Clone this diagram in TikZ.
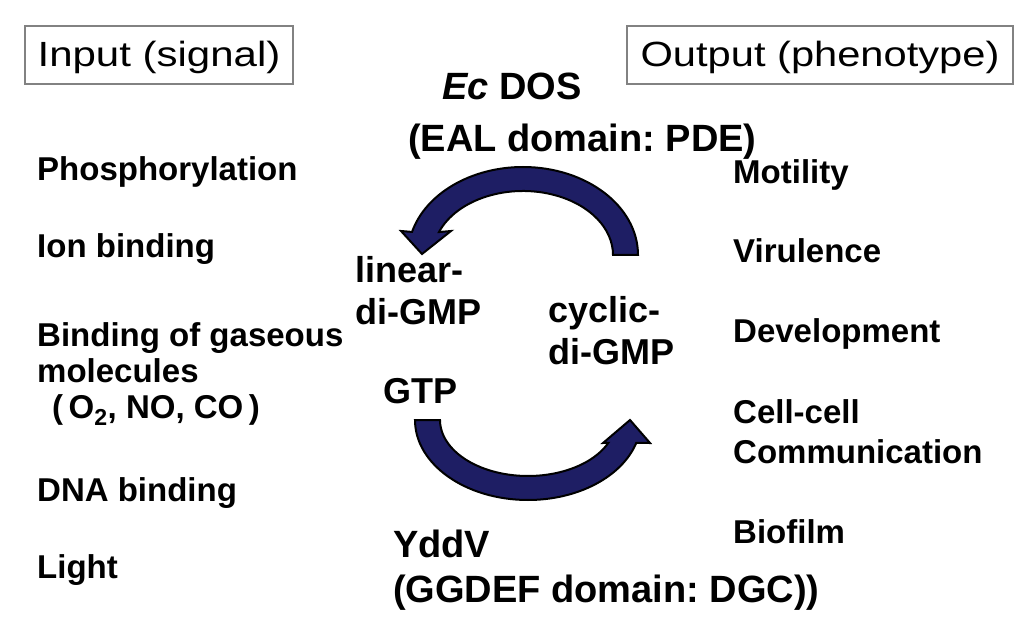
\documentclass[tikz,border=0pt]{standalone}
\usepackage{fontspec}
\usepackage{graphicx}
\setmainfont{Liberation Sans}
\frenchspacing
\definecolor{arrowblue}{RGB}{30,30,100}
\definecolor{boxgray}{RGB}{130,130,130}
\tikzset{
  hdrbox/.style={draw=boxgray, line width=1.5pt, inner sep=0pt, text height=29pt, text depth=5pt, font=\fontsize{35}{40}\selectfont},
  listtxt/.style={anchor=base west, inner sep=0pt, font=\fontsize{33}{40}\selectfont\bfseries},
  midtxt/.style={anchor=base west, inner sep=0pt, font=\fontsize{36}{42}\selectfont\bfseries},
  bigtxt/.style={anchor=base west, inner sep=0pt, font=\fontsize{38}{44}\selectfont\bfseries},
  cyclearrow/.style={fill=arrowblue, draw=black, line width=2pt, line join=miter}
}
\begin{document}
\begin{tikzpicture}[x=1pt,y=1pt]
\useasboundingbox (0,0) rectangle (1024,624);
% header boxes
\node[hdrbox, minimum width=268pt, minimum height=58pt] (inbox) at (159,569) {\scalebox{1.2}[1]{Input (signal)}};
\node[hdrbox, minimum width=386pt, minimum height=58pt] (outbox) at (820,569) {\scalebox{1.19}[1]{Output (phenotype)}};
% input list
\node[listtxt] (phos) at (37,443) {Phosphorylation};
\node[listtxt] (ion) at (37,366) {Ion binding};
\node[listtxt] (gas1) at (37,277) {Binding of gaseous};
\node[listtxt] (gas2) at (37,241) {molecules};
\node[listtxt] (gas3) at (52,206) {(\,O\textsubscript{2}, NO, CO\,)};
\node[listtxt] (dna) at (37,123) {DNA binding};
\node[listtxt] (light) at (37,46) {Light};
% output list
\node[listtxt] (mot) at (733,440) {Motility};
\node[listtxt] (vir) at (733,361) {Virulence};
\node[listtxt] (dev) at (733,281) {Development};
\node[listtxt] (cell1) at (733,201) {Cell-cell};
\node[listtxt] (cell2) at (733,161) {Communication};
\node[listtxt] (bio) at (733,81) {Biofilm};
% centre labels
\node[bigtxt] (ecdos) at (442,524) {\textit{Ec} DOS};
\node[bigtxt] (eal) at (408,472) {(EAL domain: PDE)};
\node[midtxt] (lin1) at (355,341) {linear-};
\node[midtxt] (lin2) at (355,299) {di-GMP};
\node[midtxt] (cyc1) at (548,301) {cyclic-};
\node[midtxt] (cyc2) at (548,259) {di-GMP};
\node[midtxt] (gtp) at (383,221) {GTP};
\node[bigtxt] (yddv) at (393,67) {YddV};
\node[bigtxt] (ggdef) at (393,22) {(GGDEF domain: DGC))};
% top curved arrow (c-di-GMP -> linear-di-GMP)
\draw[cyclearrow] (638,369)
  arc[start angle=0, end angle=164.8, x radius=115pt, y radius=88pt]
  -- (401,393) -- (422,370) -- (451,393)
  -- ([shift={(523,369)}]159:90pt and 64pt)
  arc[start angle=159, end angle=0, x radius=90pt, y radius=64pt]
  -- cycle;
% bottom curved arrow (GTP -> c-di-GMP)
\draw[cyclearrow] (415,204)
  arc[start angle=180, end angle=343.3, x radius=113pt, y radius=80pt]
  -- (650,181) -- (630,204) -- (603,181)
  -- ([shift={(528,204)}]335.8:88pt and 56pt)
  arc[start angle=335.8, end angle=180, x radius=88pt, y radius=56pt]
  -- cycle;
\end{tikzpicture}
\end{document}
